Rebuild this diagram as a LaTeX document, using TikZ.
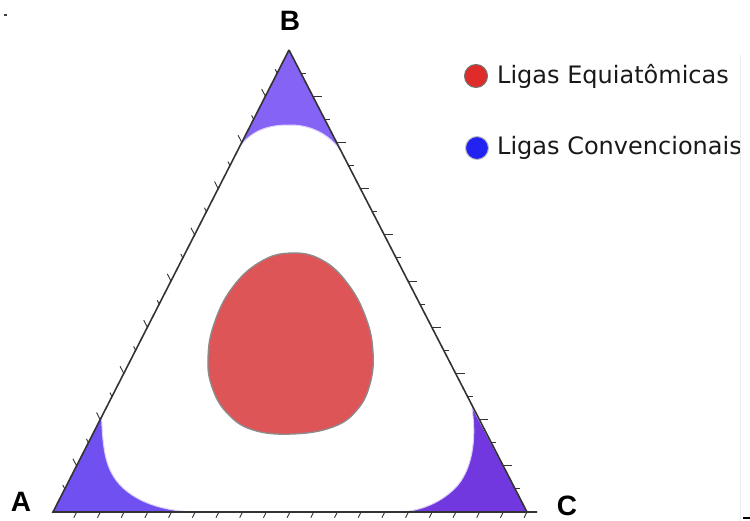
\documentclass[tikz,border=0pt]{standalone}
\usepackage{fontspec}
\setmainfont{Liberation Sans}
\newfontfamily\legendfont{DejaVu Sans}
\usetikzlibrary{calc}
\definecolor{edgegray}{HTML}{333333}
\definecolor{purpleA}{HTML}{7050F0}
\definecolor{purpleB}{HTML}{8563F5}
\definecolor{purpleC}{HTML}{7038DE}
\definecolor{eggred}{HTML}{DE5558}
\definecolor{eggline}{HTML}{8C8C8C}
\definecolor{legred}{HTML}{E02B2B}
\definecolor{legblue}{HTML}{2222F2}
\tikzset{
  tick/.style={draw=edgegray, line width=0.9pt},
  axis/.style={draw=edgegray, line width=1.6pt},
  vlabel/.style={font=\bfseries\fontsize{28}{30}\selectfont, text=black, inner sep=0pt},
  legtext/.style={font=\legendfont\fontsize{24}{26}\selectfont, anchor=west, inner sep=0pt, text=black!90},
  legdot/.style={circle, minimum size=23pt, inner sep=0pt, line width=1pt}
}
\begin{document}
\begin{tikzpicture}[x=1pt,y=-1pt]
\useasboundingbox (0,0) rectangle (750,521);
\coordinate (A) at (53,512);
\coordinate (B) at (289,50);
\coordinate (C) at (527,512);

% corner regions
\fill[purpleB] (B) -- (241,145)
  .. controls (255,128) and (272,125) .. (290,125)
  .. controls (310,125) and (328,133) .. (341,151) -- cycle;
\fill[purpleA] (A) -- (101.5,416)
  .. controls (103,450) and (105,470) .. (122,487)
  .. controls (138,502) and (160,510) .. (192,512) -- cycle;
\fill[purpleC] (C) -- (472,408)
  .. controls (476,435) and (474,465) .. (458,485)
  .. controls (442,503) and (420,511) .. (400,512) -- cycle;
\draw[white!75!purpleA, line width=1pt] (241,145)
  .. controls (255,128) and (272,125) .. (290,125)
  .. controls (310,125) and (328,133) .. (341,151);
\draw[white!75!purpleA, line width=1pt] (101.5,416)
  .. controls (103,450) and (105,470) .. (122,487)
  .. controls (138,502) and (160,510) .. (192,512);
\draw[white!75!purpleC, line width=1pt] (472,408)
  .. controls (476,435) and (474,465) .. (458,485)
  .. controls (442,503) and (420,511) .. (400,512);

% egg
\draw[fill=eggred, draw=eggline, line width=1.3pt] plot[smooth cycle, tension=0.7] coordinates {
 (291,253) (322,260) (348,284) (366,318) (373,352) (370,384) (357,410) (333,427)
 (293,434) (253,430) (227,413) (212,387) (208,358) (214,324) (232,288) (260,262)};

% axes
\draw[axis] (B) -- (A) -- (537,512);
\draw[axis] (B) -- (C);

% ticks bottom
\foreach \k in {1,...,20}{
  \draw[tick] ($(A)!\k/20!(C)$) -- ++(-2.9,5.7);
}
% ticks left edge (A to B)
\foreach \k in {1,3,...,19}{
  \draw[tick] ($(A)!\k/20!(B)$) -- ++(-2.0,-3.9);
}
\foreach \k in {2,4,...,18}{
  \draw[tick] ($(A)!\k/20!(B)$) -- ++(-3.7,-7.1);
}
% ticks right edge (B to C)
\foreach \k in {1,3,...,19}{
  \draw[tick] ($(B)!\k/20!(C)$) -- ++(5,0);
}
\foreach \k in {2,4,...,18}{
  \draw[tick] ($(B)!\k/20!(C)$) -- ++(9,0);
}

% vertex labels
\node[vlabel] (lA) at (21,502) {A};
\node[vlabel] (lB) at (290,21) {B};
\node[vlabel] (lC) at (567,506) {C};

% legend
\node[legdot, fill=legred, draw=black!55] (d1) at (476,76) {};
\node[legtext] (t1) at (497,76) {Ligas Equiatômicas};
\node[legdot, fill=legblue, draw=black!25] (d2) at (477,148) {};
\node[legtext] (t2) at (497,148) {Ligas Convencionais};

% stray marks
\draw[black!8, line width=0.8pt] (740,55) -- (740,521);
\fill[black!75] (4,14) rectangle (6.5,16.5);
\draw[black, line width=1.6pt] (743,518) -- (750,518);
\end{tikzpicture}
\end{document}
